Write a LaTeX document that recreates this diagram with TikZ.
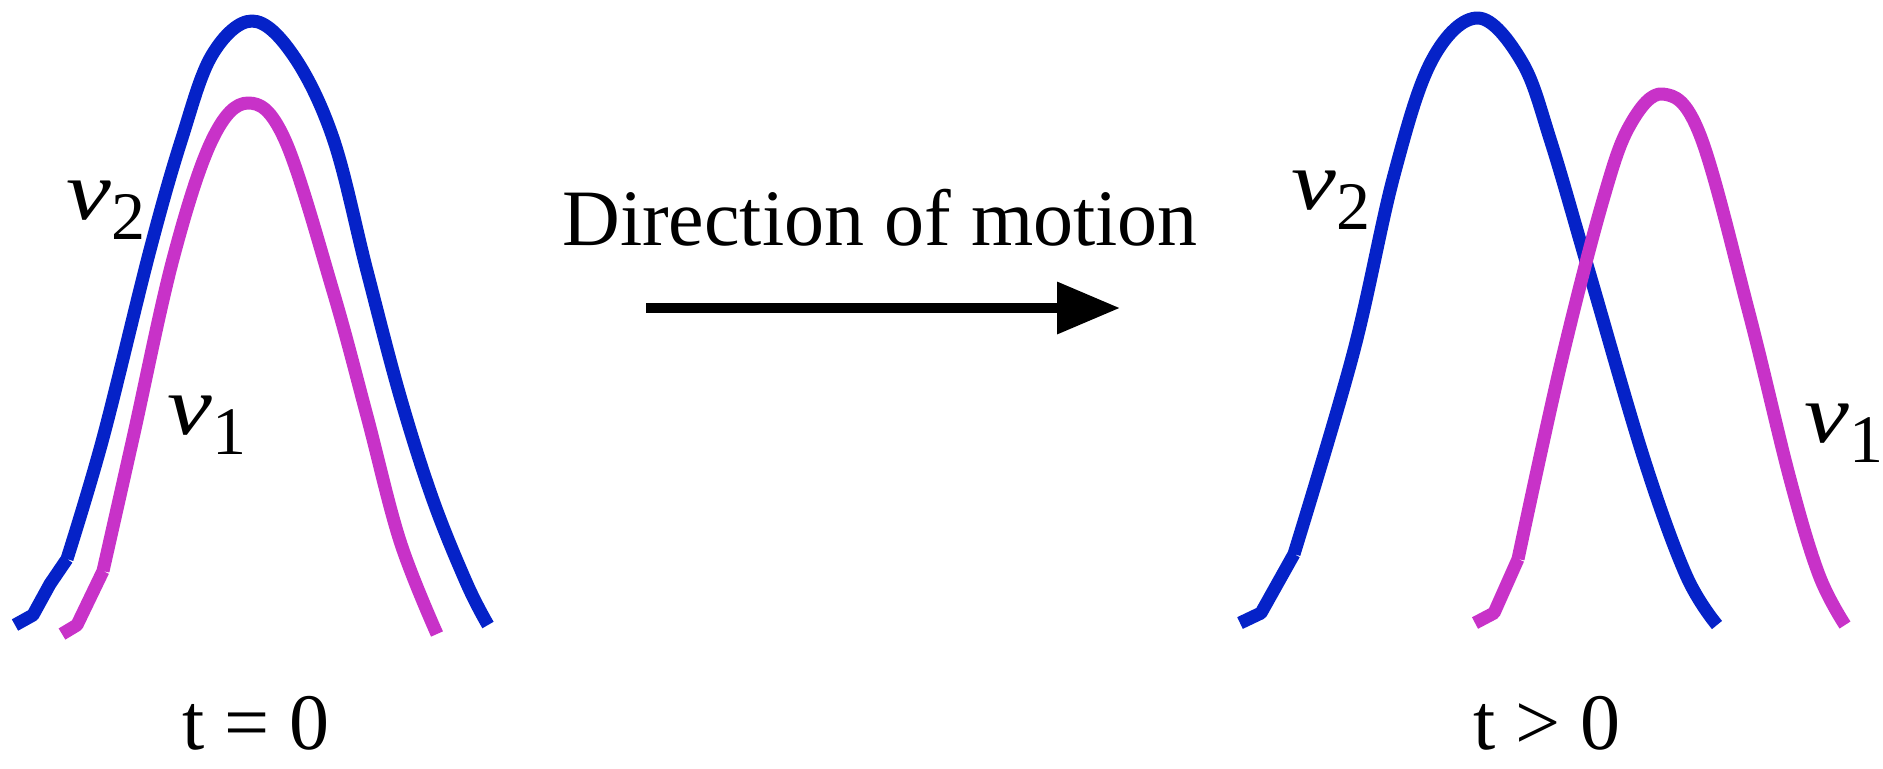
\documentclass[tikz,border=0pt]{standalone}
\usepackage{fontspec}
\setmainfont{Liberation Serif}
\usetikzlibrary{arrows.meta}
\definecolor{cblue}{HTML}{0522C8}
\definecolor{cpink}{HTML}{C832C8}
\tikzset{
  curve/.style={line width=6.5pt, line join=round},
  bluecurve/.style={curve, draw=cblue},
  pinkcurve/.style={curve, draw=cpink},
  biglabel/.style={font=\fontsize{40}{40}\selectfont, inner sep=0pt, anchor=base},
  nulabel/.style={inner sep=0pt, anchor=base west},
  motion/.style={line width=5pt, -{Triangle[length=31.5pt,width=25pt]}}
}
\newcommand{\nusub}[1]{{\fontsize{42}{42}\selectfont\itshape\scalebox{1.2}[1]{ν}}{\fontsize{34}{34}\selectfont\raisebox{-10pt}{#1}}}
\begin{document}
\begin{tikzpicture}[x=0.5pt,y=-0.5pt]
\useasboundingbox (0,0) rectangle (1883,768);
% left group, t = 0
\draw[bluecurve] (15,625) -- (33,615) -- (50,584) -- (67,559)
  plot[smooth,tension=0.6] coordinates {(67,559) (103,438) (150,250) (182,138) (212,55) (252,21) (293,55) (333,138) (367,271) (400,396) (433,500) (467,584) (488,625)};
\draw[pinkcurve] (62,634) -- (77,625) -- (103,571)
  plot[smooth,tension=0.6] coordinates {(103,571) (133,438) (173,259) (212,140) (248,103) (285,140) (333,291) (367,416) (400,541) (437,634)};
% right group, t > 0
\draw[bluecurve] (1240,623) -- (1261,613) -- (1294,554)
  plot[smooth,tension=0.6] coordinates {(1294,554) (1353,354) (1394,175) (1432,60) (1478,18) (1522,62) (1551,142) (1590,275) (1644,459) (1686,575) (1717,625)};
\draw[pinkcurve] (1475,623) -- (1494,613) -- (1518,559)
  plot[smooth,tension=0.6] coordinates {(1518,559) (1561,363) (1603,200) (1630,125) (1663,94) (1700,135) (1749,313) (1790,479) (1819,575) (1845,625)};
% labels
\node[nulabel] (nu2a) at (66,219) {\nusub{2}};
\node[nulabel] (nu1a) at (167,434) {\nusub{1}};
\node[nulabel] (nu2b) at (1291,209) {\nusub{2}};
\node[nulabel] (nu1b) at (1804,442) {\nusub{1}};
\node[biglabel] (dir) at (880,245) {Direction of motion};
\node[biglabel] (t0) at (256,749) {t = 0};
\node[biglabel] (t1) at (1547,749) {t > 0};
% arrow
\coordinate (as) at (646,308);
\coordinate (ae) at (1120,308);
\draw[motion] (as) -- (ae);
\end{tikzpicture}
\end{document}
